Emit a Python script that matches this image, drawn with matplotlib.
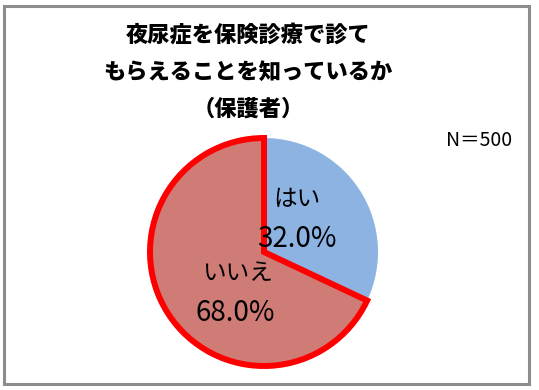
import matplotlib.pyplot as plt
from matplotlib.patches import Rectangle

plt.rcParams['font.family'] = ['Noto Sans CJK JP', 'DejaVu Sans']

labels = ['はい', 'いいえ']
values = [32.0, 68.0]
colors = ['#8DB3E2', '#CF7B76']
title_lines = ['夜尿症を保険診療で診て', 'もらえることを知っているか', '（保護者）']
n_text = 'N＝500'

W, H = 539, 390
fig = plt.figure(figsize=(W / 100, H / 100), dpi=100)

# outer frame
fig.patches.append(Rectangle((4 / W, 6 / H), 525 / W, 378 / H, transform=fig.transFigure,
                             fill=False, edgecolor='#8C8C8C', linewidth=2.2))

# title
for i, t in enumerate(title_lines):
    fig.text(248 / W, 1 - (35 + 37 * i) / H, t, ha='center', va='center',
             fontsize=16, fontweight='black')
fig.text(479 / W, 1 - 140 / H, n_text, ha='center', va='center', fontsize=14)

# pie
cx, cy, r = 264, 252, 114
pad = 1.08
ax = fig.add_axes([(cx - r * pad) / W, (H - cy - r * pad) / H, 2 * r * pad / W, 2 * r * pad / H])
wedges, _ = ax.pie(values, colors=colors, startangle=90, counterclock=False, radius=1)
wedges[0].set_edgecolor('none')
wedges[1].set_edgecolor('#FF0000')
wedges[1].set_linewidth(4.3)
wedges[1].set_zorder(3)
ax.set_xlim(-pad, pad)
ax.set_ylim(-pad, pad)
ax.set_aspect('equal')
ax.axis('off')

def px(x, y):
    return (x - cx) / r, (cy - y) / r

pos = {'はい': [(297, 200), (297, 239)], 'いいえ': [(237, 274), (235, 313)]}
for lab, v in zip(labels, values):
    (x1, y1), (x2, y2) = pos[lab]
    ax.text(*px(x1, y1), lab, ha='center', va='center', fontsize=17, zorder=5)
    ax.text(*px(x2, y2), f'{v:.1f}%', ha='center', va='center', fontsize=20, zorder=5)

fig.savefig('out.png', dpi=100)
